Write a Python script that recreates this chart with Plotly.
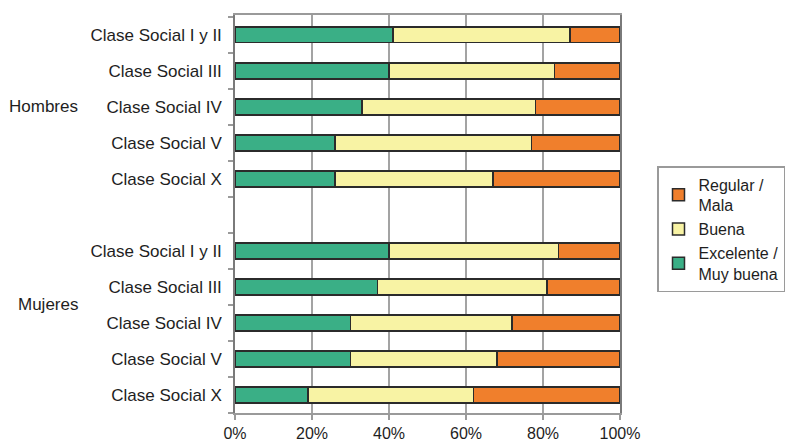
import plotly.graph_objects as go

# ---- data ----
classes = ["Clase Social I y II", "Clase Social III", "Clase Social IV", "Clase Social V", "Clase Social X"]
groups = ["Hombres", "Mujeres"]

hombres_excelente = [41, 40, 33, 26, 26]
hombres_buena = [46, 43, 45, 51, 41]
hombres_regular = [13, 17, 22, 23, 33]

mujeres_excelente = [40, 37, 30, 30, 19]
mujeres_buena = [44, 44, 42, 38, 43]
mujeres_regular = [16, 19, 28, 32, 38]

series_names = ["Excelente /<br>Muy buena", "Buena", "Regular /<br>Mala"]
x_ticks = [0, 20, 40, 60, 80, 100]
x_tick_labels = ["0%", "20%", "40%", "60%", "80%", "100%"]

# ---- layout helpers ----
n = len(classes)
y_h = list(range(n))                 # Hombres rows
y_m = [i + n + 1 for i in range(n)]  # Mujeres rows (one blank slot between)
y_all = y_h + y_m

colors = ["#3AAF86", "#F8F3A4", "#F07F2C"]
series_values = [
    hombres_excelente + mujeres_excelente,
    hombres_buena + mujeres_buena,
    hombres_regular + mujeres_regular,
]

FONT = "Liberation Sans, Arial, Helvetica, sans-serif"
TXT = "#1e1e1e"

fig = go.Figure()
for name, vals, col in zip(series_names, series_values, colors):
    fig.add_trace(go.Bar(
        x=vals, y=y_all, orientation="h", name=name,
        width=0.44,
        marker=dict(color=col, line=dict(color="#2b2b2b", width=1.5)),
    ))

fig.update_layout(
    barmode="stack",
    width=790, height=442,
    margin=dict(l=235, r=170, t=15, b=29, autoexpand=False),
    paper_bgcolor="white", plot_bgcolor="white",
    font=dict(family=FONT, size=17, color=TXT),
    showlegend=True,
    legend=dict(
        x=(657 - 235) / 385, y=(413 - 166) / 398,
        xanchor="left", yanchor="top",
        traceorder="reversed",
        bordercolor="#9a9a9a", borderwidth=1.5,
        font=dict(family=FONT, size=16, color=TXT),
        bgcolor="white",
        tracegroupgap=0,
    ),
    xaxis=dict(
        range=[0, 100],
        tickvals=x_ticks, ticktext=x_tick_labels,
        tickfont=dict(size=16),
        showgrid=True, gridcolor="#a3a3a3", gridwidth=1.5,
        zeroline=False,
        showline=True, linecolor="#9a9a9a", linewidth=1.5, mirror=True,
        ticks="outside", ticklen=5, tickcolor="#9a9a9a", tickwidth=1.5,
        fixedrange=True,
    ),
    yaxis=dict(
        range=[len(y_all) + 0.5, -0.55],
        tickvals=y_all, ticktext=classes + classes,
        showgrid=False, zeroline=False,
        showline=True, linecolor="#7a7a7a", linewidth=1.5, mirror=True,
        ticks="", ticklabelstandoff=8,
        minor=dict(ticks="outside", tick0=0.5, dtick=1, ticklen=5,
                   tickcolor="#9a9a9a", tickwidth=1.5, showgrid=False),
    ),
)

# group labels
fig.add_annotation(text=groups[0], xref="paper", yref="y",
                   x=(80 - 235) / 385, y=y_h[2], xanchor="right", yanchor="middle",
                   showarrow=False, font=dict(family=FONT, size=17, color=TXT))
fig.add_annotation(text=groups[1], xref="paper", yref="y",
                   x=(80 - 235) / 385, y=(y_m[1] + y_m[2]) / 2, xanchor="right", yanchor="middle",
                   showarrow=False, font=dict(family=FONT, size=17, color=TXT))

fig.write_html("out.html", config={"displayModeBar": False},
               post_script="document.body.style.margin='0';")
